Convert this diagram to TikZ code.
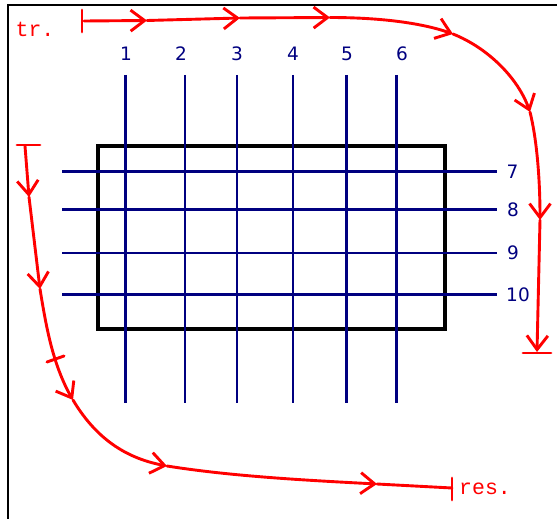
\documentclass[tikz,border=0pt]{standalone}
\usepackage{fontspec}
\usetikzlibrary{arrows.meta}
\newfontfamily\digitfont{DejaVu Sans}
\newfontfamily\monofont{Liberation Mono}
\definecolor{navyline}{RGB}{0,0,128}
\definecolor{redline}{RGB}{255,0,0}
\tikzset{
  gridline/.style={draw=navyline, line width=2.6pt},
  framebox/.style={draw=black, line width=4.5pt},
  flowline/.style={draw=redline, line width=2.9pt, line cap=round},
  flowarrow/.style={flowline, -{Straight Barb[length=14pt,width=21pt,line width=2.9pt]}},
  numlabel/.style={text=navyline, font=\digitfont\fontsize{18.5}{20}\selectfont, inner sep=0pt},
  redlabel/.style={text=redline, font=\monofont\fontsize{21.5}{23}\selectfont, inner sep=0pt}
}
\begin{document}
\begin{tikzpicture}[x=1pt,y=-1pt]
\useasboundingbox (0,0) rectangle (557,519);
% outer frame (left and top edges)
\draw[line width=1.3pt] (8,519) -- (8,5) -- (557,5);
% rectangle
\draw[framebox] (98,146) rectangle (445,329);
% vertical lines
\foreach \x [count=\i] in {125.5,185,237,293,346.5,396.5}{
  \coordinate (vt\i) at (\x,75);
  \coordinate (vb\i) at (\x,403);
  \draw[gridline] (vt\i) -- (vb\i);
}
% horizontal lines
\foreach \y [count=\i from 7] in {171.5,209.5,253,294.5}{
  \coordinate (hl\i) at (62,\y);
  \coordinate (hr\i) at (497,\y);
  \draw[gridline] (hl\i) -- (hr\i);
}
% labels
\node[numlabel] (n1) at (126,53.5) {1};
\node[numlabel] (n2) at (181,53.5) {2};
\node[numlabel] (n3) at (237,53.5) {3};
\node[numlabel] (n4) at (293,53.5) {4};
\node[numlabel] (n5) at (347,53.5) {5};
\node[numlabel] (n6) at (402,53.5) {6};
\node[numlabel] (n7) at (512.5,172) {7};
\node[numlabel] (n8) at (513,209.5) {8};
\node[numlabel] (n9) at (513,253) {9};
\node[numlabel] (n10) at (518,294.5) {10};
\node[redlabel] (tr) at (35,29) {tr.};
\node[redlabel, anchor=west] (res) at (459,489) {res.};
% top red path
\coordinate (t0) at (84,21);
\coordinate (t1) at (147,20.5);
\coordinate (t2) at (240,18);
\coordinate (t3) at (330,17.5);
\coordinate (t4) at (453,34);
\coordinate (t5) at (530,112);
\coordinate (t6) at (540,220);
\coordinate (t7) at (537,352);
\draw[flowline] (82,10) -- (82,32);
\draw[flowarrow] (t0) -- (t1);
\draw[flowarrow] (t1) -- (t2);
\draw[flowarrow] (t2) -- (t3);
\draw[flowarrow] (t3) .. controls (385,17.5) and (425,24) .. (t4);
\draw[flowarrow] (t4) .. controls (488,48) and (518,78) .. (t5);
\draw[flowarrow] (t5) .. controls (537,140) and (540,180) .. (t6);
\draw[flowarrow] (t6) -- (t7);
\draw[flowline] (523,353) -- (551,353);
% left red path
\coordinate (l0) at (25,146);
\coordinate (l1) at (29,197);
\coordinate (l2) at (40,289);
\coordinate (l3) at (55,359);
\coordinate (l4) at (73,400);
\coordinate (l5) at (167,466);
\coordinate (l6) at (377,484);
\coordinate (l7) at (452,488);
\draw[flowline] (17,145) -- (40,145);
\draw[flowarrow] (l0) -- (l1);
\draw[flowarrow] (l1) -- (l2);
\draw[flowline] (l2) .. controls (45,320) and (49,340) .. (l3);
\draw[flowline] (47,362) -- (64,356);
\draw[flowarrow] (l3) .. controls (60,375) and (66,388) .. (l4);
\draw[flowarrow] (l4) .. controls (98,442) and (130,459) .. (l5);
\draw[flowarrow] (l5) .. controls (230,476) and (300,480) .. (l6);
\draw[flowline] (l6) -- (l7);
\draw[flowline] (452,478) -- (452,500);
\end{tikzpicture}
\end{document}
